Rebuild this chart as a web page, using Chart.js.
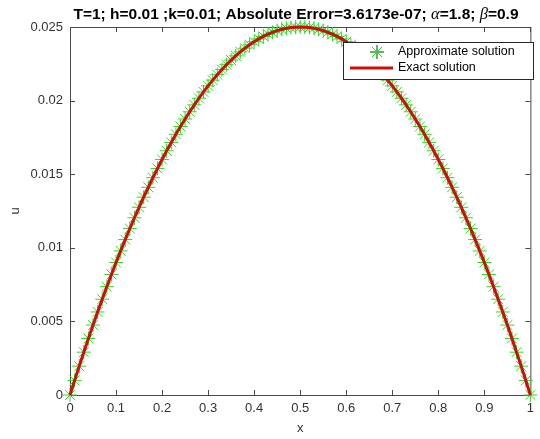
<!DOCTYPE html>
<html>
<head>
<meta charset="utf-8">
<script src="https://cdn.jsdelivr.net/npm/chart.js@4.4.1/dist/chart.umd.min.js"></script>
<style>
    html, body { margin: 0; padding: 0; background: #ffffff; }
    #plot { display: block; }
</style>
</head>
<body>
<canvas id="plot" width="540" height="439"></canvas>
<script>
// grid x = 0 : 0.01 : 1
const xValues = [
    0.00, 0.01, 0.02, 0.03, 0.04, 0.05, 0.06, 0.07, 0.08, 0.09,
    0.10, 0.11, 0.12, 0.13, 0.14, 0.15, 0.16, 0.17, 0.18, 0.19,
    0.20, 0.21, 0.22, 0.23, 0.24, 0.25, 0.26, 0.27, 0.28, 0.29,
    0.30, 0.31, 0.32, 0.33, 0.34, 0.35, 0.36, 0.37, 0.38, 0.39,
    0.40, 0.41, 0.42, 0.43, 0.44, 0.45, 0.46, 0.47, 0.48, 0.49,
    0.50, 0.51, 0.52, 0.53, 0.54, 0.55, 0.56, 0.57, 0.58, 0.59,
    0.60, 0.61, 0.62, 0.63, 0.64, 0.65, 0.66, 0.67, 0.68, 0.69,
    0.70, 0.71, 0.72, 0.73, 0.74, 0.75, 0.76, 0.77, 0.78, 0.79,
    0.80, 0.81, 0.82, 0.83, 0.84, 0.85, 0.86, 0.87, 0.88, 0.89,
    0.90, 0.91, 0.92, 0.93, 0.94, 0.95, 0.96, 0.97, 0.98, 0.99,
    1.00
];

// approximate solution (green stars)
const approxU = [
    0.00000, 0.00099, 0.00196, 0.00291, 0.00384, 0.00475, 0.00564, 0.00651, 0.00736, 0.00819,
    0.00900, 0.00979, 0.01056, 0.01131, 0.01204, 0.01275, 0.01344, 0.01411, 0.01476, 0.01539,
    0.01600, 0.01659, 0.01716, 0.01771, 0.01824, 0.01875, 0.01924, 0.01971, 0.02016, 0.02059,
    0.02100, 0.02139, 0.02176, 0.02211, 0.02244, 0.02275, 0.02304, 0.02331, 0.02356, 0.02379,
    0.02400, 0.02419, 0.02436, 0.02451, 0.02464, 0.02475, 0.02484, 0.02491, 0.02496, 0.02499,
    0.02500, 0.02499, 0.02496, 0.02491, 0.02484, 0.02475, 0.02464, 0.02451, 0.02436, 0.02419,
    0.02400, 0.02379, 0.02356, 0.02331, 0.02304, 0.02275, 0.02244, 0.02211, 0.02176, 0.02139,
    0.02100, 0.02059, 0.02016, 0.01971, 0.01924, 0.01875, 0.01824, 0.01771, 0.01716, 0.01659,
    0.01600, 0.01539, 0.01476, 0.01411, 0.01344, 0.01275, 0.01204, 0.01131, 0.01056, 0.00979,
    0.00900, 0.00819, 0.00736, 0.00651, 0.00564, 0.00475, 0.00384, 0.00291, 0.00196, 0.00099,
    0.00000
];

// exact solution (red line)
const exactU = [
    0.00000, 0.00099, 0.00196, 0.00291, 0.00384, 0.00475, 0.00564, 0.00651, 0.00736, 0.00819,
    0.00900, 0.00979, 0.01056, 0.01131, 0.01204, 0.01275, 0.01344, 0.01411, 0.01476, 0.01539,
    0.01600, 0.01659, 0.01716, 0.01771, 0.01824, 0.01875, 0.01924, 0.01971, 0.02016, 0.02059,
    0.02100, 0.02139, 0.02176, 0.02211, 0.02244, 0.02275, 0.02304, 0.02331, 0.02356, 0.02379,
    0.02400, 0.02419, 0.02436, 0.02451, 0.02464, 0.02475, 0.02484, 0.02491, 0.02496, 0.02499,
    0.02500, 0.02499, 0.02496, 0.02491, 0.02484, 0.02475, 0.02464, 0.02451, 0.02436, 0.02419,
    0.02400, 0.02379, 0.02356, 0.02331, 0.02304, 0.02275, 0.02244, 0.02211, 0.02176, 0.02139,
    0.02100, 0.02059, 0.02016, 0.01971, 0.01924, 0.01875, 0.01824, 0.01771, 0.01716, 0.01659,
    0.01600, 0.01539, 0.01476, 0.01411, 0.01344, 0.01275, 0.01204, 0.01131, 0.01056, 0.00979,
    0.00900, 0.00819, 0.00736, 0.00651, 0.00564, 0.00475, 0.00384, 0.00291, 0.00196, 0.00099,
    0.00000
];

const xTickLabels = ['0', '0.1', '0.2', '0.3', '0.4', '0.5', '0.6', '0.7', '0.8', '0.9', '1'];
const yTickLabels = ['0', '0.005', '0.01', '0.015', '0.02', '0.025'];

const seriesNames = ['Approximate solution', 'Exact solution'];
const titleParts = [
    { text: 'T=1; h=0.01 ;k=0.01; Absolute Error=3.6173e-07; ', greek: false },
    { text: '\u03B1', greek: true },
    { text: '=1.8; ', greek: false },
    { text: '\u03B2', greek: true },
    { text: '=0.9', greek: false }
];

const axisColor = '#4a4a4a';
const textColor = '#333333';
const starColor = '#33d633';
const lineColor = '#cf0e0a';
const sansFont = '"Liberation Sans", Arial, sans-serif';

// MATLAB-like frame: box with inward ticks on all four sides
const framePlugin = {
    id: 'frame',
    beforeDatasetsDraw(chart) {
        const { ctx, chartArea: a, scales } = chart;
        const len = 5;
        ctx.save();
        ctx.strokeStyle = axisColor;
        ctx.lineWidth = 1;
        ctx.strokeRect(a.left + 0.5, a.top + 0.5, a.right - a.left, a.bottom - a.top);
        ctx.beginPath();
        scales.x.ticks.forEach(t => {
            const px = Math.round(scales.x.getPixelForValue(t.value)) + 0.5;
            ctx.moveTo(px, a.bottom); ctx.lineTo(px, a.bottom - len);
            ctx.moveTo(px, a.top); ctx.lineTo(px, a.top + len);
        });
        scales.y.ticks.forEach(t => {
            const py = Math.round(scales.y.getPixelForValue(t.value)) + 0.5;
            ctx.moveTo(a.left, py); ctx.lineTo(a.left + len, py);
            ctx.moveTo(a.right, py); ctx.lineTo(a.right - len, py);
        });
        ctx.stroke();
        ctx.restore();
    },
    afterDraw(chart) {
        const { ctx, chartArea: a } = chart;
        ctx.save();

        // title, mixed fonts
        const boldFont = 'bold 15.5px ' + sansFont;
        const greekFont = 'italic 16.5px "Liberation Serif", "Times New Roman", serif';
        let total = 0;
        titleParts.forEach(p => {
            ctx.font = p.greek ? greekFont : boldFont;
            total += ctx.measureText(p.text).width;
        });
        let tx = 296 - total / 2;
        ctx.fillStyle = '#000000';
        ctx.textBaseline = 'alphabetic';
        ctx.textAlign = 'left';
        titleParts.forEach(p => {
            ctx.font = p.greek ? greekFont : boldFont;
            ctx.fillText(p.text, tx, 19);
            tx += ctx.measureText(p.text).width;
        });

        // axis labels
        ctx.fillStyle = textColor;
        ctx.font = '13px ' + sansFont;
        ctx.textAlign = 'center';
        ctx.textBaseline = 'middle';
        ctx.fillText('x', (a.left + a.right) / 2, 428);
        ctx.save();
        ctx.translate(15, (a.top + a.bottom) / 2);
        ctx.rotate(-Math.PI / 2);
        ctx.fillText('u', 0, 0);
        ctx.restore();

        // legend box
        const bx = 343, by = 42, bw = 190, bh = 37;
        ctx.fillStyle = '#ffffff';
        ctx.fillRect(bx, by, bw, bh);
        ctx.strokeStyle = '#262626';
        ctx.lineWidth = 1;
        ctx.strokeRect(bx + 0.5, by + 0.5, bw, bh);

        Chart.helpers.drawPoint(ctx, {
            pointStyle: 'star', radius: 7, borderWidth: 1,
            borderColor: starColor, backgroundColor: starColor
        }, 377, 52);
        ctx.strokeStyle = starColor;
        ctx.lineWidth = 1;
        ctx.beginPath();
        const r = 7;
        ctx.moveTo(377 - r, 52); ctx.lineTo(377 + r, 52);
        ctx.moveTo(377, 52 - r); ctx.lineTo(377, 52 + r);
        const d = r * Math.SQRT1_2;
        ctx.moveTo(377 - d, 52 - d); ctx.lineTo(377 + d, 52 + d);
        ctx.moveTo(377 - d, 52 + d); ctx.lineTo(377 + d, 52 - d);
        ctx.stroke();

        ctx.strokeStyle = lineColor;
        ctx.lineWidth = 3;
        ctx.beginPath();
        ctx.moveTo(350, 68); ctx.lineTo(393, 68);
        ctx.stroke();

        ctx.fillStyle = '#000000';
        ctx.font = '12.5px ' + sansFont;
        ctx.textAlign = 'left';
        ctx.textBaseline = 'middle';
        ctx.fillText(seriesNames[0], 398, 52);
        ctx.fillText(seriesNames[1], 398, 68);

        ctx.restore();
    }
};

const ctx = document.getElementById('plot').getContext('2d');
const chart = new Chart(ctx, {
    type: 'scatter',
    data: {
        datasets: [
            {
                label: seriesNames[0],
                data: xValues.map((x, i) => ({ x: x, y: approxU[i] })),
                pointStyle: 'star',
                pointRadius: 7,
                pointBorderWidth: 1,
                borderColor: starColor,
                backgroundColor: starColor,
                showLine: false,
                clip: false,
                order: 1
            },
            {
                label: seriesNames[1],
                data: xValues.map((x, i) => ({ x: x, y: exactU[i] })),
                showLine: true,
                pointRadius: 0,
                borderColor: lineColor,
                borderWidth: 3,
                tension: 0,
                clip: false,
                order: 0
            }
        ]
    },
    options: {
        responsive: false,
        animation: false,
        devicePixelRatio: 1,
        layout: { padding: { top: 27, right: 5, left: 0, bottom: 0 } },
        plugins: {
            legend: { display: false },
            title: { display: false },
            tooltip: { enabled: false }
        },
        scales: {
            x: {
                type: 'linear',
                min: 0,
                max: 1,
                grid: { display: false, drawTicks: false },
                border: { display: false },
                ticks: {
                    stepSize: 0.1,
                    padding: 6,
                    color: textColor,
                    maxRotation: 0,
                    font: { family: sansFont, size: 13 },
                    callback: v => xTickLabels[Math.round(v * 10)]
                },
                afterFit: s => { s.height = 44; }
            },
            y: {
                type: 'linear',
                min: 0,
                max: 0.025,
                grid: { display: false, drawTicks: false },
                border: { display: false },
                ticks: {
                    stepSize: 0.005,
                    padding: 7,
                    color: textColor,
                    font: { family: sansFont, size: 13 },
                    callback: v => yTickLabels[Math.round(v / 0.005)]
                },
                afterFit: s => { s.width = 70; }
            }
        }
    },
    plugins: [framePlugin]
});
</script>
</body>
</html>
